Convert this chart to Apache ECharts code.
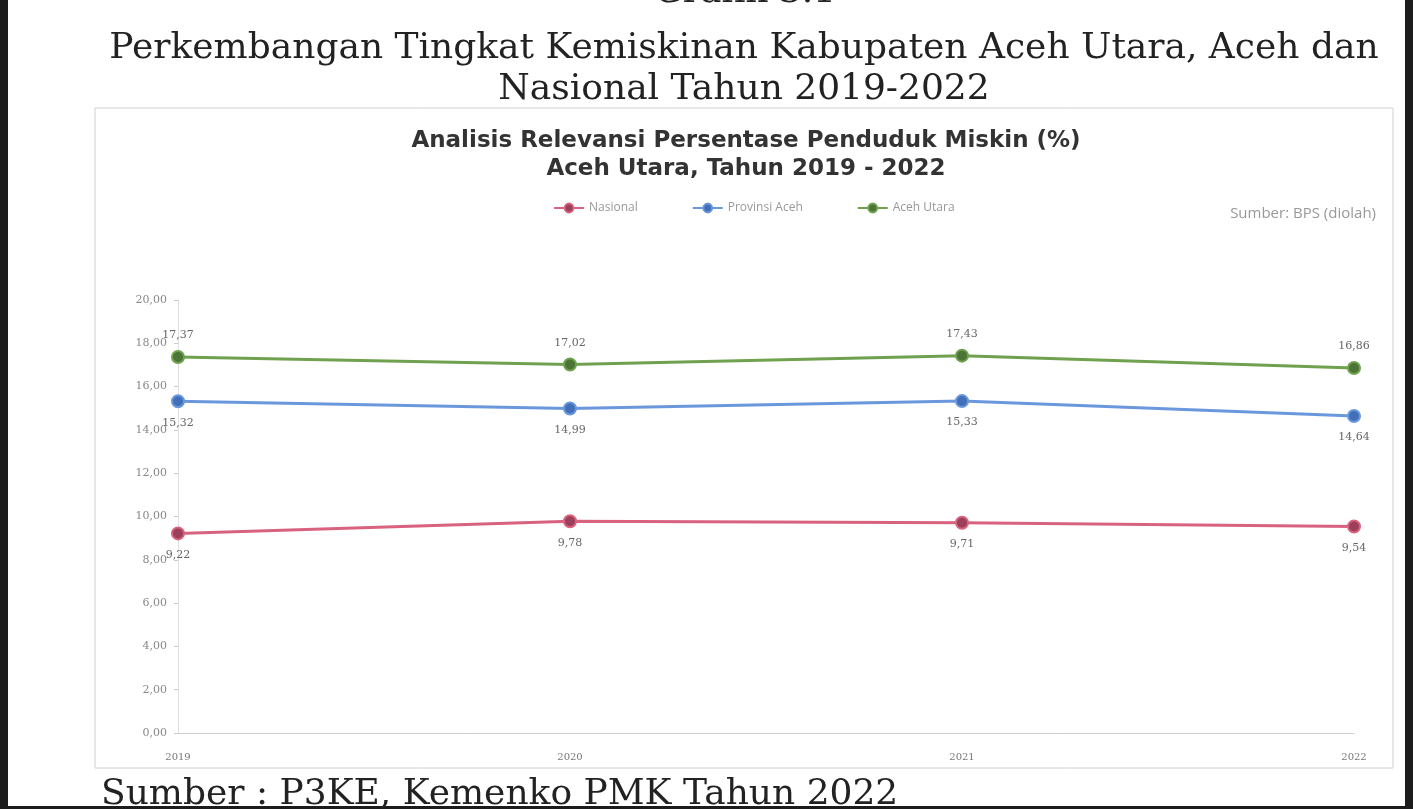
<!DOCTYPE html>
<html>
<head>
<meta charset="utf-8">
<script src="https://cdn.jsdelivr.net/npm/echarts@6/dist/echarts.min.js"></script>
<style>
  html, body { margin: 0; padding: 0; background: #1c1c1c; }
  #canvas { width: 1413px; height: 809px; }
</style>
</head>
<body>
<div id="canvas"></div>
<script>
var years = ['2019', '2020', '2021', '2022'];
var nasional = [9.22, 9.78, 9.71, 9.54];
var provAceh = [15.32, 14.99, 15.33, 14.64];
var acehUtara = [17.37, 17.02, 17.43, 16.86];
var seriesNames = ['Nasional', 'Provinsi Aceh', 'Aceh Utara'];

var fmt = function(v) {
    return v.toFixed(2).replace('.', ',');
}

var make_series = function(name, data, lineColor, dotColor, labelPos) {
    return {
        name: name,
        type: 'line',
        data: data,
        symbol: 'circle',
        symbolSize: 12,
        lineStyle: {color: lineColor, width: 3},
        itemStyle: {color: dotColor, borderColor: lineColor, borderWidth: 2},
        label: {
            show: true,
            position: labelPos,
            distance: 9,
            color: '#666',
            fontSize: 11,
            fontFamily: 'DejaVu Serif',
            formatter: function(p) { return fmt(p.value); }
        }
    };
}

var myChart = echarts.init(document.getElementById('canvas'));
var option = {
    backgroundColor: '#1c1c1c',
    animation: false,
    graphic: [
        {type: 'rect', shape: {x: 8, y: 0, width: 1397, height: 806}, style: {fill: '#ffffff'}, z: -10},
        {type: 'rect', shape: {x: 95, y: 108, width: 1298, height: 660}, style: {fill: '#ffffff', stroke: '#d0d0d0', lineWidth: 1}, z: -9}
    ],
    title: [
        {
            text: 'Grafik 3.1', left: 740, top: -30, textAlign: 'center',
            textStyle: {fontFamily: 'DejaVu Serif', fontSize: 36, fontWeight: 'normal', color: '#222'}
        },
        {
            text: 'Perkembangan Tingkat Kemiskinan Kabupaten Aceh Utara, Aceh dan\nNasional Tahun 2019-2022',
            left: 739, top: 23, textAlign: 'center',
            textStyle: {fontFamily: 'DejaVu Serif', fontSize: 36, fontWeight: 'normal', color: '#222', lineHeight: 41, align: 'center'}
        },
        {
            text: 'Analisis Relevansi Persentase Penduduk Miskin (%)\nAceh Utara, Tahun 2019 - 2022',
            left: 741, top: 122, textAlign: 'center',
            textStyle: {fontFamily: 'DejaVu Sans', fontSize: 23, fontWeight: 'bold', color: '#333', lineHeight: 28, align: 'center'}
        },
        {
            text: 'Sumber: BPS (diolah)', right: 32, top: 201,
            textStyle: {fontFamily: 'Open Sans', fontSize: 15, fontWeight: 'normal', color: '#999'}
        },
        {
            text: 'Sumber : P3KE, Kemenko PMK Tahun 2022', left: 96, top: 772,
            textStyle: {fontFamily: 'DejaVu Serif', fontSize: 36, fontWeight: 'normal', color: '#222'}
        }
    ],
    legend: {
        data: seriesNames,
        top: 197,
        left: 548,
        itemWidth: 30,
        itemHeight: 11,
        itemGap: 54,
        textStyle: {color: '#999', fontSize: 12, fontFamily: 'Open Sans'}
    },
    grid: {left: 178, right: 59, top: 300, bottom: 76},
    xAxis: {
        type: 'category',
        data: years,
        boundaryGap: false,
        axisLine: {lineStyle: {color: '#d0d0d0'}},
        axisTick: {show: false},
        axisLabel: {color: '#777', fontSize: 10, fontFamily: 'DejaVu Serif', margin: 19}
    },
    yAxis: {
        type: 'value',
        min: 0,
        max: 20,
        interval: 2,
        splitLine: {show: false},
        axisLine: {show: true, lineStyle: {color: '#e0e0e0'}},
        axisTick: {show: true, length: 4, lineStyle: {color: '#ccc'}},
        axisLabel: {color: '#888', fontSize: 11, fontFamily: 'DejaVu Serif', margin: 11, formatter: fmt}
    },
    series: [
        make_series('Nasional', nasional, '#d9627f', '#9c3f5a', 'bottom'),
        make_series('Provinsi Aceh', provAceh, '#6b98dc', '#4270b8', 'bottom'),
        make_series('Aceh Utara', acehUtara, '#6fa14f', '#4b7436', 'top')
    ]
};
myChart.setOption(option);
</script>
</body>
</html>
